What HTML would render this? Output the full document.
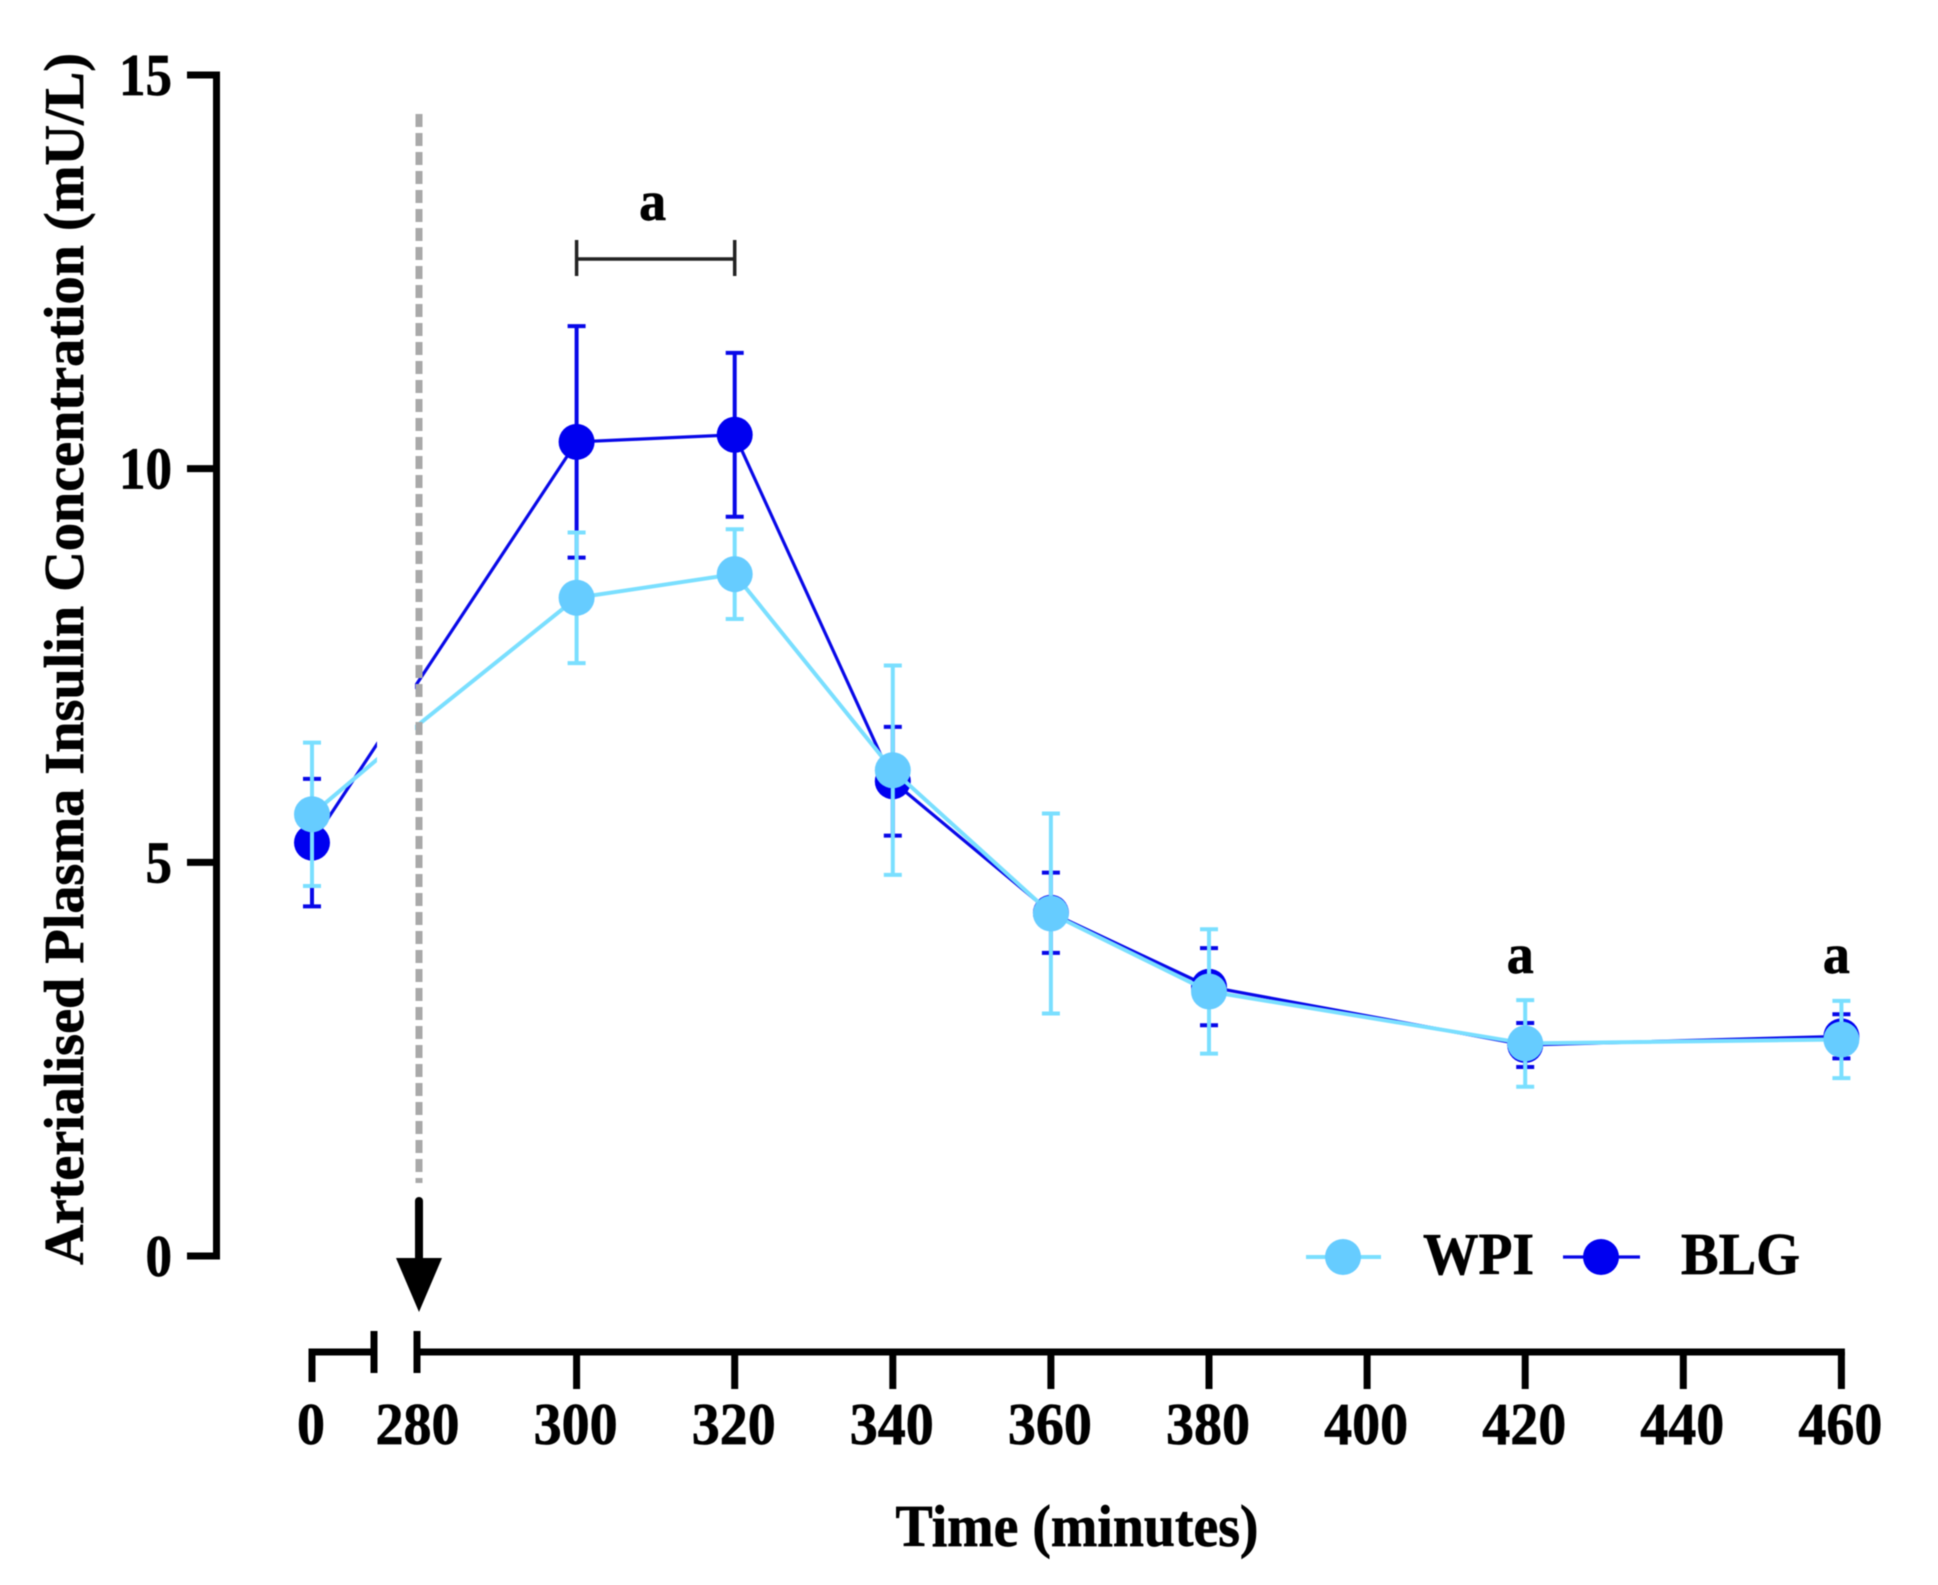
<!DOCTYPE html>
<html lang="en">
<head>
<meta charset="utf-8">
<title>Arterialised Plasma Insulin Concentration</title>
<style>
html,body{margin:0;padding:0;background:#fff;}
svg{display:block;filter:blur(0.6px);}
text{font-family:"Liberation Serif",serif;font-weight:bold;fill:#000;stroke:#000;stroke-width:0.7px;}
</style>
</head>
<body>
<svg id="chart" xmlns="http://www.w3.org/2000/svg" width="1938" height="1585" viewBox="0 0 1938 1585"></svg>
<script>
const times = [0, 280, 300, 320, 340, 360, 380, 420, 460];
const wpiValues = [5.61, 6.75, 8.36, 8.66, 6.17, 4.35, 3.36, 2.70, 2.75];
const wpiErrors = [0.91, 0, 0.83, 0.57, 1.33, 1.27, 0.79, 0.55, 0.49];
const blgValues = [5.25, 7.30, 10.34, 10.43, 6.03, 4.36, 3.42, 2.68, 2.79];
const blgErrors = [0.81, 0, 1.47, 1.04, 0.69, 0.51, 0.49, 0.28, 0.28];
const markerHidden = [280];
const xTickValues = [0, 280, 300, 320, 340, 360, 380, 400, 420, 440, 460];
const xMinorTicks = [280];
const yTickValues = [0, 5, 10, 15];
const sigBracketTimes = [300, 320];
const sigSingleTimes = [420, 460];

const NS = 'http://www.w3.org/2000/svg';
const svg = document.getElementById('chart');
const WPI_COLOR = '#66ccff', WPI_LINE = '#7adfff', BLG_COLOR = '#0000f0', BLG_LINE = '#0808e8';

function xScale(t) { return t < 280 ? 312 + t * (106.5 / 280) : 418.5 + (t - 280) * 7.905; }
function yScale(v) { return 1256 - v * (1181 / 15); }

function make(tag, attrs, parent) {
  const e = document.createElementNS(NS, tag);
  for (const k in attrs) e.setAttribute(k, attrs[k]);
  (parent || svg).appendChild(e);
  return e;
}
function makeText(str, x, y, size, anchor, len, parent) {
  const e = make('text', {x: x, y: y, 'font-size': size, 'text-anchor': anchor, textLength: len, lengthAdjust: 'spacingAndGlyphs'}, parent);
  e.textContent = str;
  return e;
}

/* y axis */
const yAxis = make('line', {x1: 216.5, y1: 72, x2: 216.5, y2: 1259.5, stroke: '#000', 'stroke-width': 7});


yTickValues.forEach(function (v) {
  const tick = make('line', {x1: 187, y1: yScale(v), x2: 220, y2: yScale(v), stroke: '#000', 'stroke-width': 7});
  
  
  const s = String(v);
  const label = makeText(s, 172, yScale(v) + 20, 59, 'end', s.length * 26.5);
  
  
});

/* x axis: first segment */
const axisSegA = make('path', {d: 'M' + xScale(0) + ' 1382V1352H374', fill: 'none', stroke: '#000', 'stroke-width': 7});


const breakA = make('line', {x1: 374, y1: 1331, x2: 374, y2: 1373, stroke: '#000', 'stroke-width': 7});


const breakB = make('line', {x1: 417, y1: 1331, x2: 417, y2: 1373, stroke: '#000', 'stroke-width': 7});


const axisSegB = make('line', {x1: 417, y1: 1352, x2: xScale(460) + 3.5, y2: 1352, stroke: '#000', 'stroke-width': 7});


xTickValues.forEach(function (t) {
  if (t !== 0 && xMinorTicks.indexOf(t) < 0) {
    const tick = make('line', {x1: xScale(t), y1: 1352, x2: xScale(t), y2: 1389, stroke: '#000', 'stroke-width': 7});
    
    
  }
  const s = String(t);
  const label = makeText(s, xScale(t) - 1, 1444, 59, 'middle', s.length * 28);
  
  
});

/* axis titles */
const xTitle = makeText('Time (minutes)', 1077, 1546, 59, 'middle', 363);


const yTitle = makeText('Arterialised Plasma Insulin Concentration (mU/L)', 0, 0, 56, 'middle', 1212);
yTitle.setAttribute('transform', 'translate(83,659) rotate(-90)');



/* series */
function drawSeries(name, values, errors, lineColor, markerColor, lineWidth) {
  const g = make('g', {});
  
  
  const pts = times.map(function (t, i) { return xScale(t) + ',' + yScale(values[i]); }).join(' ');
  const line = make('polyline', {points: pts, fill: 'none', stroke: lineColor, 'stroke-width': lineWidth}, g);
  
  
  times.forEach(function (t, i) {
    if (markerHidden.indexOf(t) >= 0) return;
    const x = xScale(t), hi = yScale(values[i] + errors[i]), lo = yScale(values[i] - errors[i]);
    const bar = make('path', {d: 'M' + (x - 9) + ' ' + hi + 'H' + (x + 9) + 'M' + x + ' ' + hi + 'V' + lo + 'M' + (x - 9) + ' ' + lo + 'H' + (x + 9), fill: 'none', stroke: lineColor, 'stroke-width': 4}, g);
    
    
  });
  times.forEach(function (t, i) {
    if (markerHidden.indexOf(t) >= 0) return;
    const dot = make('circle', {cx: xScale(t), cy: yScale(values[i]), r: 18, fill: markerColor}, g);
    
    
  });
}
drawSeries('blg', blgValues, blgErrors, BLG_LINE, BLG_COLOR, 3.2);
drawSeries('wpi', wpiValues, wpiErrors, WPI_LINE, WPI_COLOR, 4);

/* axis-break mask over the connecting lines */
const gapMask = make('rect', {x: 377, y: 600, width: 38, height: 260, fill: '#fff'});



/* dashed reference line */
const refLine = make('line', {x1: 419, y1: 114, x2: 419, y2: 1183, stroke: '#a9a9a9', 'stroke-width': 7, 'stroke-dasharray': '13 6'});



/* arrow */
const arrowShaft = make('line', {x1: 419, y1: 1201, x2: 419, y2: 1262, stroke: '#000', 'stroke-width': 8, 'stroke-linecap': 'round'});


const arrowHead = make('polygon', {points: '396,1258 442,1258 419,1312', fill: '#000'});



/* significance annotations */
const bx1 = xScale(sigBracketTimes[0]), bx2 = xScale(sigBracketTimes[1]);
const bracket = make('path', {d: 'M' + bx1 + ' 240V276M' + bx1 + ' 259H' + bx2 + 'M' + bx2 + ' 240V276', fill: 'none', stroke: '#222', 'stroke-width': 3.5});


const sigA = makeText('a', (bx1 + bx2) / 2 - 3, 220, 56, 'middle', 27);


sigSingleTimes.forEach(function (t) {
  const s = makeText('a', xScale(t) - 5, 973, 56, 'middle', 27);
  
  
});

/* legend */
const legendWpi = make('g', {});


make('line', {x1: 1306, y1: 1257, x2: 1381, y2: 1257, stroke: WPI_LINE, 'stroke-width': 4}, legendWpi);
make('circle', {cx: 1343, cy: 1257, r: 18, fill: WPI_COLOR}, legendWpi);
makeText('WPI', 1423, 1274, 59, 'start', 111, legendWpi);
const legendBlg = make('g', {});


make('line', {x1: 1563, y1: 1257, x2: 1640, y2: 1257, stroke: BLG_LINE, 'stroke-width': 3.2}, legendBlg);
make('circle', {cx: 1601, cy: 1257, r: 18, fill: BLG_COLOR}, legendBlg);
makeText('BLG', 1681, 1274, 59, 'start', 119, legendBlg);
</script>
</body>
</html>
